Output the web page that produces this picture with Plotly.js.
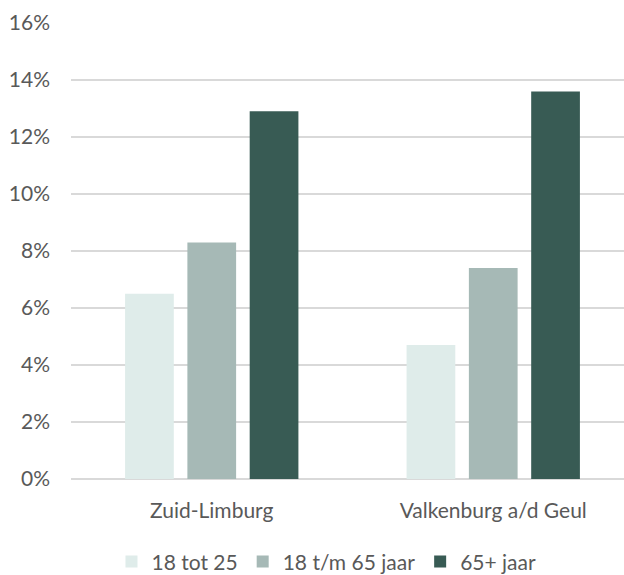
<!DOCTYPE html>
<html><head><meta charset="utf-8">
<script src="https://cdn.plot.ly/plotly-3.0.1.min.js"></script>
<style>html,body{margin:0;padding:0;background:#fff;overflow:hidden}</style>
</head><body><div id="chart" style="width:624px;height:575px"></div>
<script>
const categories = ["Zuid-Limburg", "Valkenburg a/d Geul"];
const seriesNames = ["18 tot 25", "18 t/m 65 jaar", "65+ jaar"];
const values18tot25 = [6.5, 4.7];
const values18tm65 = [8.3, 7.4];
const values65plus = [12.9, 13.6];
const colors = ["#dfecea", "#a6b9b6", "#385b54"];
const yTicks = [0, 2, 4, 6, 8, 10, 12, 14, 16];

const series = [values18tot25, values18tm65, values65plus];
const traces = series.map((v, i) => ({
  type: "bar", x: categories, y: v, name: seriesNames[i],
  marker: {color: colors[i], line: {width: 0}},
  hoverinfo: "skip"
}));
const font = {family: "Lato, 'Open Sans', sans-serif", size: 21, color: "#595959"};
const layout = {
  width: 624, height: 575,
  margin: {l: 71, r: 0, t: 23, b: 96, pad: 0, autoexpand: false},
  paper_bgcolor: "#fff", plot_bgcolor: "#fff",
  font: font,
  barmode: "group", bargap: 0.336, bargroupgap: 0.218,
  showlegend: true,
  legend: {orientation: "h", x: 0.462, xanchor: "center", y: -0.137, yanchor: "top",
           font: {family: font.family, size: 21, color: "#595959"}, itemwidth: 30, traceorder: "normal"},
  xaxis: {type: "category", range: [-0.5, 1.4645], showgrid: false, zeroline: false,
          showline: false, ticks: "", tickfont: {size: 21, color: "#595959"}, ticklabelstandoff: 17},
  yaxis: {range: [0, 16], tickvals: yTicks, ticktext: yTicks.map(t => t + "%"),
          showgrid: true, gridcolor: "#d9d9d9", gridwidth: 1.3, zeroline: true, zerolinecolor: "#d9d9d9",
          zerolinewidth: 1.3, showline: false, ticks: "", tickfont: {size: 21, color: "#595959"}, ticklabelstandoff: 20, fixedrange: true}
};
Plotly.newPlot("chart", traces, layout, {staticPlot: true, displayModeBar: false});
</script></body></html>
